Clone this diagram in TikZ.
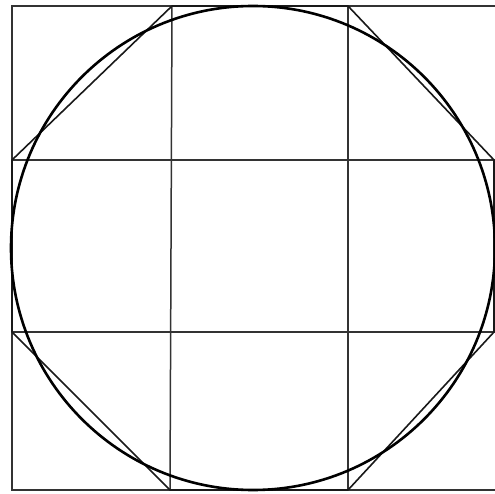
\documentclass[tikz,border=0pt]{standalone}
\begin{document}
\begin{tikzpicture}[x=1pt,y=1pt,
  gridline/.style={draw=black!80,line width=1.5pt},
  octline/.style={draw=black!90,line width=1.6pt,line join=round},
  circline/.style={draw=black,line width=2.6pt}]
\useasboundingbox (0,0) rectangle (495,493);
% square corners
\coordinate (TL) at (12,487);
\coordinate (TR) at (500,487);
\coordinate (BL) at (12,3);
\coordinate (BR) at (500,3);
% grid points
\coordinate (T1) at (172,487); \coordinate (T2) at (348,487);
\coordinate (B1) at (170,3);   \coordinate (B2) at (348,3);
\coordinate (L1) at (12,333);  \coordinate (L2) at (12,161);
\coordinate (R1) at (500,333); \coordinate (R2) at (500,161);
\coordinate (RO1) at (494,333); \coordinate (RO2) at (494,161);
\coordinate (C) at (253,245);
% outer square
\draw[gridline] (BR) -- (BL) -- (TL) -- (TR);
% grid
\draw[gridline] (T1) -- (B1);
\draw[gridline] (T2) -- (B2);
\draw[gridline] (L1) -- (R1);
\draw[gridline] (L2) -- (R2);
% octagon
\draw[octline] (T1) -- (T2) -- (RO1) -- (RO2) -- (B2) -- (B1) -- (L2) -- (L1) -- cycle;
% circle
\draw[circline] (C) circle[radius=242];
\end{tikzpicture}
\end{document}
